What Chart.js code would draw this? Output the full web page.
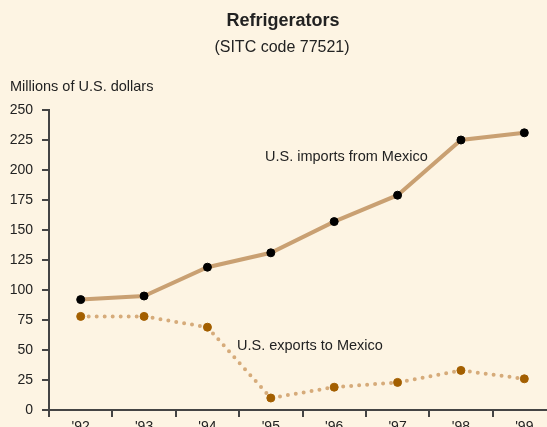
<!DOCTYPE html>
<html>
<head>
<meta charset="utf-8">
<script src="https://cdn.jsdelivr.net/npm/chart.js@4/dist/chart.umd.min.js"></script>
<style>
  html, body { margin: 0; padding: 0; background: #fdf4e3; overflow: hidden; }
  #wrap { width: 561px; height: 440px; }
</style>
</head>
<body>
<div id="wrap"><canvas id="chart" width="561" height="440"></canvas></div>
<script>
const years = ["'92", "'93", "'94", "'95", "'96", "'97", "'98", "'99"];
const importsFromMexico = [92, 95, 119, 131, 157, 179, 225, 231];
const exportsToMexico = [78, 78, 69, 10, 19, 23, 33, 26];
const yTicks = [0, 25, 50, 75, 100, 125, 150, 175, 200, 225, 250];

const FONT = "'Liberation Sans', Arial, sans-serif";

// title, subtitle, unit label and the two series notes
const textPlugin = {
  id: 'texts',
  afterDraw(chart) {
    const ctx = chart.ctx;
    ctx.save();
    ctx.fillStyle = '#222';
    ctx.textBaseline = 'middle';
    ctx.textAlign = 'center';
    ctx.font = 'bold 18px ' + FONT;
    ctx.fillText('Refrigerators', 283, 21);
    ctx.font = '16px ' + FONT;
    ctx.fillText('(SITC code 77521)', 282, 48);
    ctx.textAlign = 'left';
    ctx.font = '14.5px ' + FONT;
    ctx.fillText('Millions of U.S. dollars', 10, 87);
    ctx.fillText('U.S. imports from Mexico', 265, 157);
    ctx.fillText('U.S. exports to Mexico', 237, 346);
    ctx.restore();
  }
};

new Chart(document.getElementById('chart'), {
  type: 'line',
  data: {
    labels: years,
    datasets: [
      {
        label: 'U.S. imports from Mexico',
        data: importsFromMexico,
        borderColor: '#c9a072',
        borderWidth: 4,
        pointBackgroundColor: '#000',
        pointBorderColor: '#000',
        pointBorderWidth: 1,
        pointRadius: 4,
        tension: 0
      },
      {
        label: 'U.S. exports to Mexico',
        data: exportsToMexico,
        borderColor: '#d6ab7a',
        borderWidth: 4,
        borderDash: [0, 8],
        borderCapStyle: 'round',
        pointBackgroundColor: '#a35f00',
        pointBorderColor: '#a35f00',
        pointBorderWidth: 1,
        pointRadius: 4,
        tension: 0
      }
    ]
  },
  options: {
    responsive: false,
    animation: false,
    layout: { padding: { top: 110, left: 0, right: 0, bottom: 0 } },
    plugins: {
      legend: { display: false },
      tooltip: { enabled: false }
    },
    scales: {
      x: {
        offset: true,
        grid: {
          offset: true,
          drawOnChartArea: false,
          drawTicks: true,
          tickLength: 7,
          color: '#444',
          lineWidth: 2
        },
        border: { color: '#444', width: 2 },
        ticks: { color: '#222', font: { family: FONT, size: 14 }, padding: 2, maxRotation: 0 },
        afterFit(scale) { scale.height = 30; }
      },
      y: {
        min: 0,
        max: 250,
        afterBuildTicks(scale) { scale.ticks = yTicks.map(v => ({ value: v })); },
        grid: {
          drawOnChartArea: false,
          tickLength: 7,
          color: '#444',
          lineWidth: 2
        },
        border: { color: '#444', width: 2 },
        ticks: { color: '#222', font: { family: FONT, size: 14 }, padding: 9 },
        afterFit(scale) { scale.width = 49; }
      }
    }
  },
  plugins: [textPlugin]
});
</script>
</body>
</html>
